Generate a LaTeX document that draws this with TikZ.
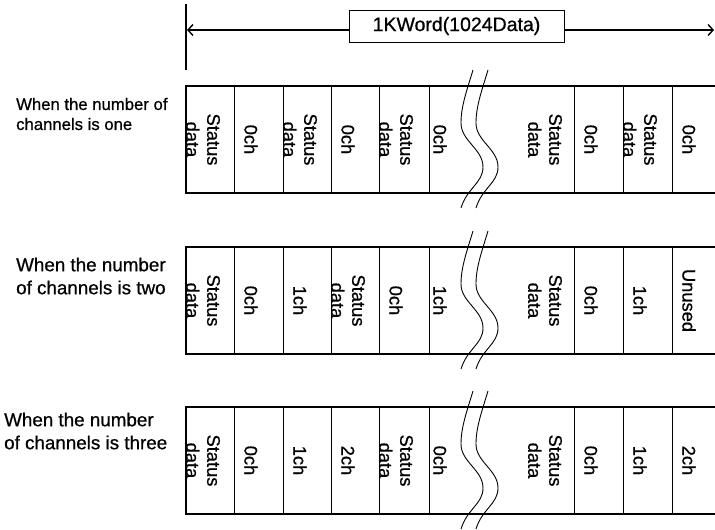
\documentclass[tikz,border=0pt]{standalone}
\usepackage{fontspec}
\setmainfont{Liberation Sans}[BoldFont={Liberation Sans}, BoldFeatures={FakeBold=0.7}]
\usepackage{tikz}
\usetikzlibrary{arrows.meta,positioning,calc}
\newcommand{\sdata}{Status\\data}
\tikzset{
  rowframe/.style={line width=1.6pt, line join=miter},
  cellsep/.style={line width=0.9pt},
  cutline/.style={line width=0.9pt},
  celltext/.style={rotate=-90, align=center, inner sep=0pt,
    font=\fontsize{18.3}{21}\selectfont\bfseries},
  rowlabel/.style={anchor=west, align=left, inner sep=0pt},
  wordbox/.style={draw, line width=0.8pt, fill=white, minimum width=215pt,
    minimum height=32pt, inner sep=0pt, font=\fontsize{19.5}{22}\selectfont\bfseries},
  dimline/.style={-{Straight Barb[length=5pt,width=11pt]}, line width=1.4pt},
}
\begin{document}
\begin{tikzpicture}[x=1pt, y=-1pt]
\useasboundingbox (0,0) rectangle (715,530);

%% word length
\draw[rowframe] (186,4) -- (186,70);
\node[wordbox] (kword) at (456.5,26) {1KWord(1024Data)};
\coordinate (dimL) at (187,30);
\coordinate (dimR) at (714,30);
\draw[dimline] (kword.west |- dimL) -- (dimL);
\draw[dimline] (kword.east |- dimR) -- (dimR);

%% row labels
\node[rowlabel, font=\fontsize{16.7}{20}\selectfont\bfseries] (lblOne) at (16,114) {When the number of\\channels is one};
\node[rowlabel, font=\fontsize{18.8}{23}\selectfont\bfseries] (lblTwo) at (16,276) {When the number\\of channels is two};
\node[rowlabel, font=\fontsize{18.8}{23}\selectfont\bfseries] (lblThree) at (4,431) {When the number\\of channels is three};

%% frames, cell borders and break marks
\foreach \top in {86, 247, 407} {
  \draw[rowframe] (715,\top) -- (186,\top) -- (186,\top+107) -- (715,\top+107);
  \foreach \x in {234, 283, 331, 379, 429, 574, 623, 672}
    \draw[cellsep] (\x,\top) -- (\x,\top+107);
  \foreach \dx in {0, 15}
    \draw[cutline] (473+\dx,\top-16) .. controls (467+\dx,\top+4) and (461+\dx,\top+20) .. (461+\dx,\top+37)
      .. controls (461+\dx,\top+55) and (483+\dx,\top+63) .. (483+\dx,\top+81)
      .. controls (483+\dx,\top+97) and (467+\dx,\top+102) .. (461+\dx,\top+122);
}

%% cell contents
\foreach \x/\t [count=\i] in {203/\sdata, 251/0ch, 300/\sdata, 348/0ch, 396/\sdata, 440/0ch, 545/\sdata, 591/0ch, 640/\sdata, 689/0ch}
  \node[celltext] (one-\i) at (\x,139.5) {\t};
\foreach \x/\t [count=\i] in {203/\sdata, 251/0ch, 300/1ch, 348/\sdata, 396/0ch, 440/1ch, 545/\sdata, 591/0ch, 640/1ch, 689/Unused}
  \node[celltext] (two-\i) at (\x,300.5) {\t};
\foreach \x/\t [count=\i] in {203/\sdata, 251/0ch, 300/1ch, 348/2ch, 396/\sdata, 440/0ch, 545/\sdata, 591/0ch, 640/1ch, 689/2ch}
  \node[celltext] (three-\i) at (\x,460.5) {\t};

\end{tikzpicture}
\end{document}
